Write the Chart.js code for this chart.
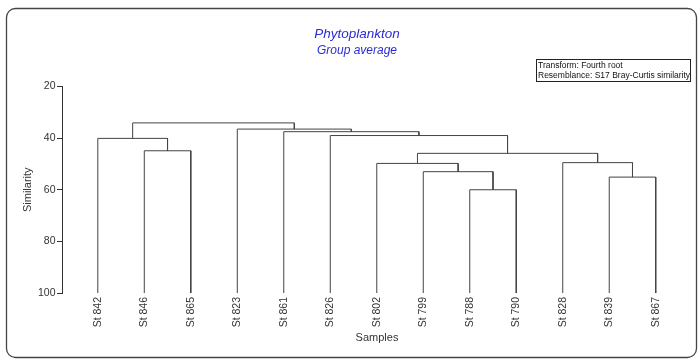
<!DOCTYPE html>
<html>
<head>
<meta charset="utf-8">
<script src="https://cdn.jsdelivr.net/npm/chart.js@4"></script>
<style>
    body { margin: 0; background: #fff; }
    #cadre { position: relative; width: 700px; height: 361px; }
</style>
</head>
<body>
<div id="cadre"><canvas id="dendrogramme"></canvas></div>
<script>
// echantillons (feuilles, dans l'ordre du dendrogramme)
const samples = ["St 842", "St 846", "St 865", "St 823", "St 861", "St 826", "St 802",
    "St 799", "St 788", "St 790", "St 828", "St 839", "St 867"];

// fusions facon hclust : negatif = feuille (1..13), positif = fusion precedente (1..12)
const mergeLeft = [-9, -12, -8, -7, -11, 4, -2, -1, -6, -5, -4, 8];
const mergeRight = [-10, -13, 1, 3, 2, 5, -3, 7, 6, 9, 10, 11];
const mergeHeight = [60, 55.1, 53, 49.8, 49.5, 45.9, 44.9, 40.1, 39, 37.5, 36.5, 34.1];

const yTicks = [20, 40, 60, 80, 100];
const leafLevel = 100;

const titre = "Phytoplankton";
const sousTitre = "Group average";
const legende = ["Transform: Fourth root", "Resemblance: S17 Bray-Curtis similarity"];

// position x et hauteur de chaque noeud
function noeud(ref, nodes) {
    if (ref < 0) return { x: -ref - 1, h: leafLevel };
    return nodes[ref - 1];
}

const nodes = [];
const datasets = [];
mergeLeft.forEach((l, i) => {
    const a = noeud(l, nodes);
    const b = noeud(mergeRight[i], nodes);
    const h = mergeHeight[i];
    nodes.push({ x: (a.x + b.x) / 2, h: h });
    datasets.push({
        data: [{ x: a.x, y: a.h }, { x: a.x, y: h }, { x: b.x, y: h }, { x: b.x, y: b.h }],
        borderColor: "#444",
        borderWidth: 1,
        pointRadius: 0,
        tension: 0,
        fill: false,
    });
});

const decor = {
    id: "decor",
    afterDraw(chart) {
        const ctx = chart.ctx;
        ctx.save();
        // cadre arrondi
        ctx.strokeStyle = "#444";
        ctx.lineWidth = 1.3;
        ctx.beginPath();
        ctx.roundRect(6.5, 8.5, 690, 349, 9);
        ctx.stroke();

        // titres
        ctx.fillStyle = "#2b2bd6";
        ctx.textAlign = "center";
        ctx.textBaseline = "middle";
        ctx.font = "italic 13.5px 'Liberation Sans', Arial, sans-serif";
        ctx.fillText(titre, 357, 34);
        ctx.font = "italic 12px 'Liberation Sans', Arial, sans-serif";
        ctx.fillText(sousTitre, 357, 51);

        // boite de legende
        ctx.strokeStyle = "#222";
        ctx.lineWidth = 1;
        ctx.strokeRect(536.5, 59.5, 154, 22);
        ctx.fillStyle = "#111";
        ctx.textAlign = "left";
        ctx.font = "8.5px 'Liberation Sans', Arial, sans-serif";
        ctx.fillText(legende[0], 538, 65.5);
        ctx.fillText(legende[1], 538, 76);
        ctx.restore();
    }
};

new Chart(document.querySelector("#dendrogramme"), {
    type: "line",
    data: { datasets: datasets },
    plugins: [decor],
    options: {
        responsive: true,
        maintainAspectRatio: false,
        animation: false,
        layout: { padding: { top: 86.5, right: 8, left: 0, bottom: 0 } },
        plugins: { legend: { display: false }, tooltip: { enabled: false } },
        scales: {
            x: {
                type: "linear",
                min: -0.77,
                max: 12.78,
                afterBuildTicks: s => { s.ticks = samples.map((_, i) => ({ value: i })); },
                afterFit: s => { s.height = 68; },
                grid: { display: false, drawTicks: false },
                border: { display: false },
                ticks: {
                    autoSkip: false,
                    maxRotation: 90,
                    minRotation: 90,
                    padding: 4,
                    color: "#333",
                    font: { family: "'Liberation Sans', Arial", size: 10.5 },
                    callback: v => samples[v],
                },
                title: {
                    display: true,
                    text: "Samples",
                    color: "#333",
                    font: { family: "'Liberation Sans', Arial", size: 11 },
                    padding: { top: 0, bottom: 16.5 },
                },
            },
            y: {
                type: "linear",
                reverse: true,
                min: yTicks[0],
                max: yTicks[yTicks.length - 1],
                afterBuildTicks: s => { s.ticks = yTicks.map(v => ({ value: v })); },
                afterFit: s => { s.width = 62; },
                grid: { drawOnChartArea: false, tickLength: 5, color: "#333" },
                border: { display: true, color: "#333" },
                ticks: {
                    padding: 1.5,
                    color: "#333",
                    font: { family: "'Liberation Sans', Arial", size: 10.5 },
                },
                title: {
                    display: true,
                    text: "Similarity",
                    color: "#333",
                    font: { family: "'Liberation Sans', Arial", size: 11 },
                    padding: { top: 21.5, bottom: 0 },
                },
            },
        },
    },
});
</script>
</body>
</html>
